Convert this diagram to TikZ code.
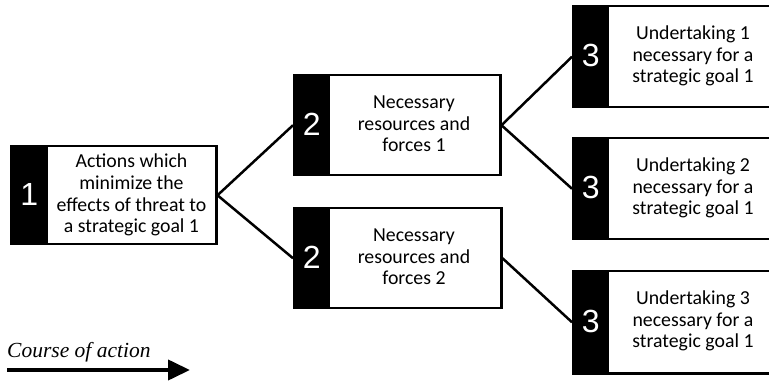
\documentclass[tikz,border=0pt]{standalone}
\usepackage{fontspec}
\setmainfont{Carlito}
\newfontfamily\numfont{Liberation Sans}
\newfontfamily\serifit{Liberation Serif}
\usetikzlibrary{arrows.meta}
\begin{document}
\begin{tikzpicture}[x=1pt,y=-1pt,
  box/.style={draw, line width=2.5pt, fill=white, inner sep=0pt, anchor=north west},
  txt/.style={inner sep=0pt, align=center, font=\fontsize{19.8}{21.7}\selectfont},
  strip/.style={fill=black, inner sep=0pt, anchor=north west, text=white,
    font=\numfont\fontsize{32}{32}\selectfont},
  conn/.style={line width=2.5pt}]
\path[use as bounding box, clip] (0,0) rectangle (769,382);
% stage 1
\node[box, minimum width=205pt, minimum height=98pt] (b1) at (10,145) {};
\node[strip, minimum width=38pt, minimum height=98pt] (s1) at (10,145) {1};
\node[txt] (t1) at (131.5,195) {Actions which\\minimize the\\effects of threat to\\a strategic goal 1};
% stage 2
\node[box, minimum width=206pt, minimum height=100pt] (b2a) at (293,74) {};
\node[strip, minimum width=37pt, minimum height=100pt] (s2a) at (293,74) {2};
\node[txt] (t2a) at (414,124) {Necessary\\resources and\\forces 1};
\node[box, minimum width=207pt, minimum height=100pt] (b2b) at (293,207) {};
\node[strip, minimum width=37pt, minimum height=100pt] (s2b) at (293,207) {2};
\node[txt] (t2b) at (414,257) {Necessary\\resources and\\forces 2};
% stage 3
\node[box, minimum width=213pt, minimum height=101pt] (b3a) at (572,5) {};
\node[strip, minimum width=37pt, minimum height=101pt] (s3a) at (572,5) {3};
\node[txt] (t3a) at (693,56) {Undertaking 1\\necessary for a\\strategic goal 1};
\node[box, minimum width=213pt, minimum height=101pt] (b3b) at (572,137) {};
\node[strip, minimum width=37pt, minimum height=101pt] (s3b) at (572,137) {3};
\node[txt] (t3b) at (693,188) {Undertaking 2\\necessary for a\\strategic goal 1};
\node[box, minimum width=213pt, minimum height=102pt] (b3c) at (572,270) {};
\node[strip, minimum width=37pt, minimum height=102pt] (s3c) at (572,270) {3};
\node[txt] (t3c) at (693,321) {Undertaking 3\\necessary for a\\strategic goal 1};
% connectors
\draw[conn] (b1.east) -- (b2a.west);
\draw[conn] (b1.east) -- (b2b.west);
\draw[conn] (b2a.east) -- (b3a.west);
\draw[conn] (b2a.east) -- (b3b.west);
\draw[conn] (b2b.east) -- (b3c.west);
% course of action
\node[inner sep=0pt, anchor=base west, font=\serifit\itshape\fontsize{21.5}{21.5}\selectfont] (coa) at (7,357) {Course of action};
\coordinate (ca) at (7,370);
\coordinate (cb) at (190,370);
\draw[line width=4pt, -{Triangle[length=22pt,width=20pt]}] (ca) -- (cb);
\end{tikzpicture}
\end{document}
